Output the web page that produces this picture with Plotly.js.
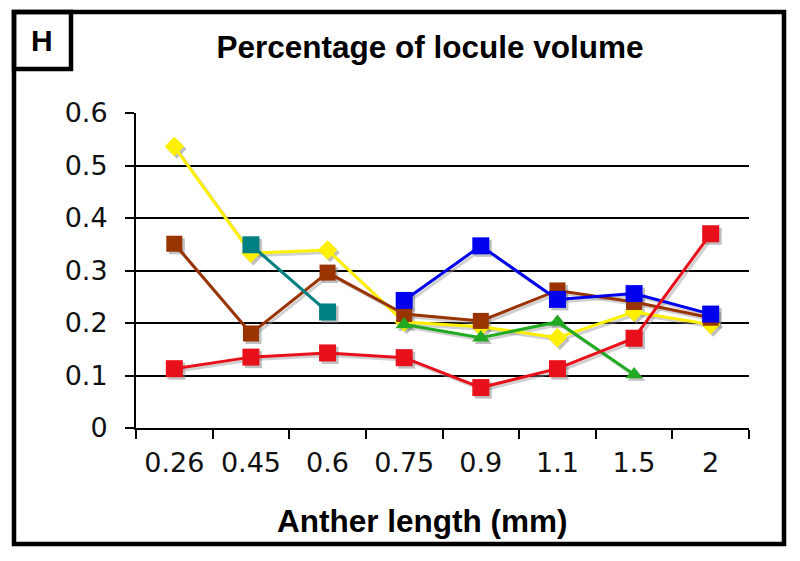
<!DOCTYPE html>
<html>
<head>
<meta charset="utf-8">
<script src="https://cdn.plot.ly/plotly-3.0.1.min.js"></script>
<style>
html,body{margin:0;padding:0;background:#fff;}
#chart{width:800px;height:561px;}
</style>
</head>
<body>
<div id="chart"></div>
<script>
// ---- data ----
var categories = ['0.26','0.45','0.6','0.75','0.9','1.1','1.5','2'];
var yellowVals = [0.536, 0.333, 0.339, 0.202, 0.193, 0.172, 0.221, 0.197];
var brownVals  = [0.351, 0.180, 0.296, 0.217, 0.204, 0.262, 0.240, 0.210];
var tealVals   = [null, 0.349, 0.221, null, null, null, null, null];
var greenVals  = [null, null, null, 0.197, 0.172, 0.202, 0.102, null];
var blueVals   = [null, null, null, 0.243, 0.347, 0.245, 0.256, 0.217];
var redVals    = [0.113, 0.135, 0.143, 0.134, 0.077, 0.113, 0.171, 0.370];
var yTicks = [0, 0.1, 0.2, 0.3, 0.4, 0.5, 0.6];
var yTickText = ['0','0.1','0.2','0.3','0.4','0.5','0.6'];

var W = 800, H = 561;
var M = {l:136, r:51, t:113, b:133};
var plotW = W - M.l - M.r, plotH = H - M.t - M.b;
function px(x){ return (x - M.l) / plotW; }
function py(y){ return (H - M.b - y) / plotH; }

var seriesDefs = [
  {y: yellowVals, color:'#FFF000', symbol:'diamond', size:15},
  {y: brownVals,  color:'#993300', symbol:'square', size:16},
  {y: tealVals,   color:'#008080', symbol:'square', size:17},
  {y: greenVals,  color:'#22AA22', symbol:'triangle-up', size:15},
  {y: blueVals,   color:'#0000EE', symbol:'square', size:17},
  {y: redVals,    color:'#E8101A', symbol:'square', size:17}
];

var traces = [];
// base axes: invisible carrier trace so the category axis draws its ticks
traces.push({x: categories, y: redVals, type:'scatter', mode:'markers', marker:{opacity:0}, hoverinfo:'skip'});
// shadows on an overlay axis shifted a few pixels
seriesDefs.forEach(function(s){
  traces.push({
    x: categories, y: s.y, type:'scatter', mode:'lines+markers',
    xaxis:'x2', yaxis:'y2', hoverinfo:'skip',
    line:{color:'rgba(150,150,150,0.45)', width:3},
    marker:{symbol:s.symbol, size:s.size, color:'rgba(130,130,130,0.5)', line:{width:0}}
  });
});
// main series on a second overlay, drawn on top of the shadows
seriesDefs.forEach(function(s){
  traces.push({
    x: categories, y: s.y, type:'scatter', mode:'lines+markers',
    xaxis:'x3', yaxis:'y3',
    line:{color:s.color, width:3},
    marker:{symbol:s.symbol, size:s.size, color:s.color, line:{width:0}}
  });
});

var dxShift = 2.5 / (plotW / 8);
var dyShift = 2.5 / (plotH / 0.6);

var tickFont = {family:'DejaVu Sans, Verdana, sans-serif', size:27, color:'#111'};
var boldFont = {family:'Liberation Sans, Arial, sans-serif', size:31.5, color:'#000'};
var layout = {
  width: W, height: H,
  margin: M,
  paper_bgcolor:'#fff', plot_bgcolor:'#fff',
  showlegend:false,
  title:{text:'<b>Percentage of locule volume</b>', font:boldFont,
         x:430/W, xanchor:'center', y:1-47/H, yanchor:'middle'},
  xaxis:{type:'category', range:[-0.5,7.5], showgrid:false, zeroline:false,
         showline:true, linecolor:'#000', linewidth:2,
         ticks:'outside', ticklen:9, tickwidth:2, tickcolor:'#000', tickson:'boundaries',
         tickfont:tickFont, ticklabelstandoff:10},
  yaxis:{range:[0,0.6], tickvals:yTicks, ticktext:yTickText, showgrid:true, gridcolor:'#000', gridwidth:2,
         zeroline:false, showline:true, linecolor:'#000', linewidth:2,
         ticks:'outside', ticklen:9, tickwidth:2, tickcolor:'#000',
         tickfont:tickFont, ticklabelstandoff:12},
  xaxis2:{type:'category', overlaying:'x', range:[-0.5-dxShift, 7.5-dxShift], visible:false},
  yaxis2:{overlaying:'y', range:[0+dyShift, 0.6+dyShift], visible:false},
  xaxis3:{type:'category', overlaying:'x', range:[-0.5, 7.5], visible:false},
  yaxis3:{overlaying:'y', range:[0, 0.6], visible:false},
  shapes:[
    {type:'rect', xref:'paper', yref:'paper', x0:px(14), x1:px(784), y0:py(12), y1:py(544), line:{color:'#000', width:4.5}, fillcolor:'rgba(0,0,0,0)', layer:'above'},
    {type:'rect', xref:'paper', yref:'paper', x0:px(14), x1:px(71), y0:py(12), y1:py(69), line:{color:'#000', width:4.5}, fillcolor:'rgba(0,0,0,0)', layer:'above'}
  ],
  annotations:[
    {text:'<b>H</b>', xref:'paper', yref:'paper', x:px(42), y:py(41), xanchor:'center', yanchor:'middle', showarrow:false,
     font:{family:'Liberation Sans, Arial, sans-serif', size:30, color:'#000'}},
    {text:'<b>Anther length (mm)</b>', xref:'paper', yref:'paper', x:px(422), y:py(521), xanchor:'center', yanchor:'middle', showarrow:false,
     font:boldFont}
  ]
};

Plotly.newPlot('chart', traces, layout, {staticPlot:true, displayModeBar:false});
</script>
</body>
</html>
